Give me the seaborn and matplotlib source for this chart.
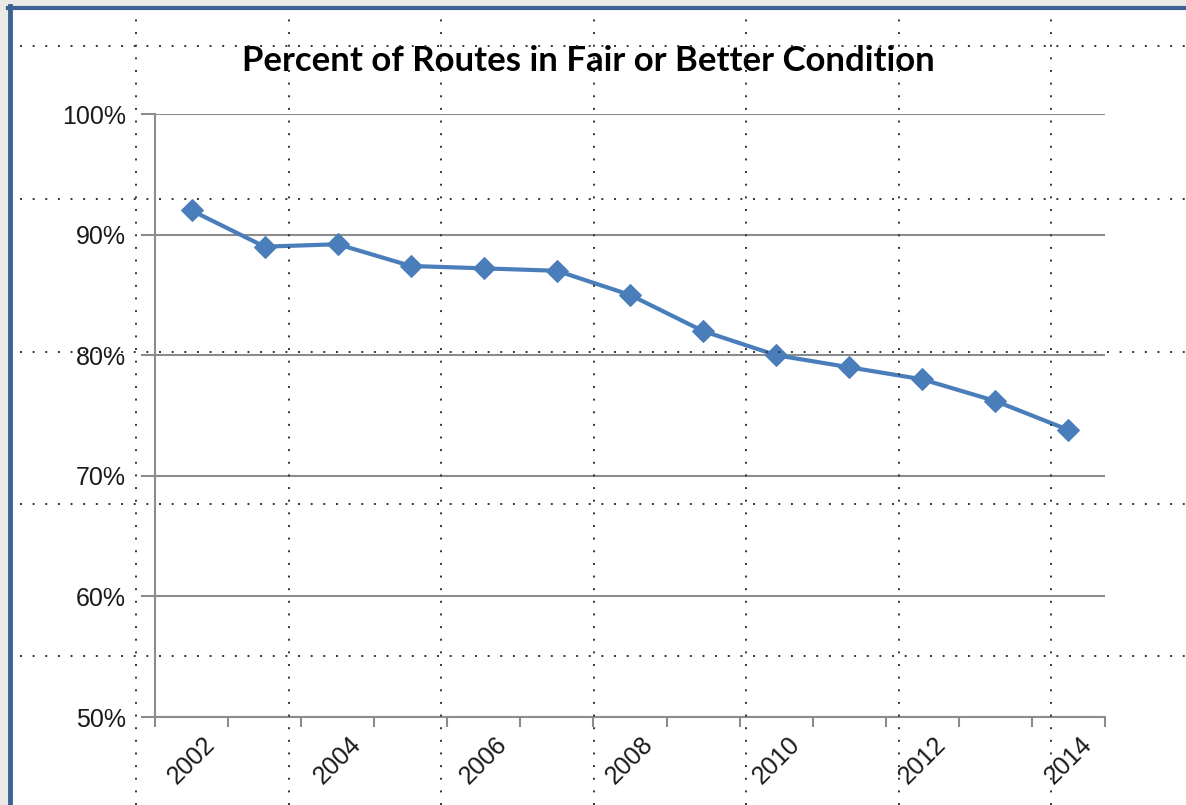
import numpy as np
import pandas as pd
import seaborn as sns
import matplotlib.pyplot as plt
from matplotlib.lines import Line2D
from matplotlib.patches import Rectangle
from matplotlib.ticker import PercentFormatter, FixedLocator

# data
years = [2002, 2003, 2004, 2005, 2006, 2007, 2008, 2009, 2010, 2011, 2012, 2013, 2014]
pct_fair = [92.0, 89.0, 89.2, 87.4, 87.2, 87.0, 85.0, 82.0, 80.0, 79.0, 78.0, 76.2, 73.8]
label_years = [2002, 2004, 2006, 2008, 2010, 2012, 2014]
y_ticks = [50, 60, 70, 80, 90, 100]
title = "Percent of Routes in Fair or Better Condition"

plt.rcParams["font.family"] = ["Liberation Sans", "DejaVu Sans"]

df = pd.DataFrame({"Year": years, "Percent": pct_fair})

W, H = 1186, 805
fig = plt.figure(figsize=(W / 100, H / 100), dpi=100)
fig.patch.set_facecolor("#ECEAE6")

# white slide area + blue frame
fig.add_artist(Rectangle((10 / W, 0), 1, 1 - 8 / H, transform=fig.transFigure,
                         facecolor="white", edgecolor="none", zorder=0))
fig.add_artist(Line2D([10 / W, 10 / W], [0, 1 - 6 / H], transform=fig.transFigure,
                      color="#3D6294", lw=3.5, zorder=1))
fig.add_artist(Line2D([8 / W, 1], [1 - 8 / H, 1 - 8 / H], transform=fig.transFigure,
                      color="#3D6294", lw=3, zorder=1))

ax = fig.add_axes([155 / W, 1 - 717 / H, 950 / W, 603 / H])
ax.set_facecolor("none")

sns.lineplot(data=df, x="Year", y="Percent", ax=ax, color="#4A7EBB", lw=3,
             marker="D", markersize=11, markeredgecolor="#4A7EBB", zorder=3)

ax.set_xlim(years[0] - 0.5, years[-1] + 0.5)
ax.set_ylim(y_ticks[0], y_ticks[-1])
ax.set_yticks(y_ticks)
ax.yaxis.set_major_formatter(PercentFormatter(decimals=0))

# category axis: tick marks between categories, labels on every other year
ax.xaxis.set_major_locator(FixedLocator([y - 0.5 for y in years] + [years[-1] + 0.5]))
ax.xaxis.set_major_formatter(plt.NullFormatter())
ax.xaxis.set_minor_locator(FixedLocator(label_years))
ax.set_xticklabels([str(y) for y in label_years], minor=True)
ax.tick_params(axis="x", which="major", length=7, width=1.5, color="#8C8C8C", direction="out")
ax.tick_params(axis="x", which="minor", length=0, pad=11, labelsize=18, labelcolor="#1a1a1a")
for lab in ax.get_xticklabels(minor=True):
    lab.set_rotation(45)
    lab.set_ha("center")
    lab.set_va("top")

ax.tick_params(axis="y", length=10, width=1.5, color="#8C8C8C", pad=11,
               labelsize=18, labelcolor="#1a1a1a")

ax.grid(axis="y", color="#8C8C8C", lw=1.5)
ax.set_axisbelow(True)
for side in ["top", "right"]:
    ax.spines[side].set_visible(False)
for side in ["left", "bottom"]:
    ax.spines[side].set_color("#8C8C8C")
    ax.spines[side].set_linewidth(1.5)
ax.set_xlabel("")
ax.set_ylabel("")

fig.text(588 / W, 1 - 61 / H, title, ha="center", va="center",
         fontsize=25, fontweight="bold", family="Lato", color="black")

# dotted slide guides drawn over everything
for gx in [136, 288.5, 441, 593.5, 746, 898.5, 1051]:
    fig.add_artist(Line2D([gx / W, gx / W], [0, 1 - 12 / H], transform=fig.transFigure,
                          color="#333333", lw=1.4, ls=(0, (1, 5.5)), zorder=10))
for gy in [46.5, 199.5, 352.5, 504, 656]:
    fig.add_artist(Line2D([20 / W, 1], [1 - gy / H, 1 - gy / H], transform=fig.transFigure,
                          color="#333333", lw=1.4, ls=(0, (1, 5.5)), zorder=10))

fig.savefig("out.png", dpi=100, facecolor=fig.get_facecolor())
